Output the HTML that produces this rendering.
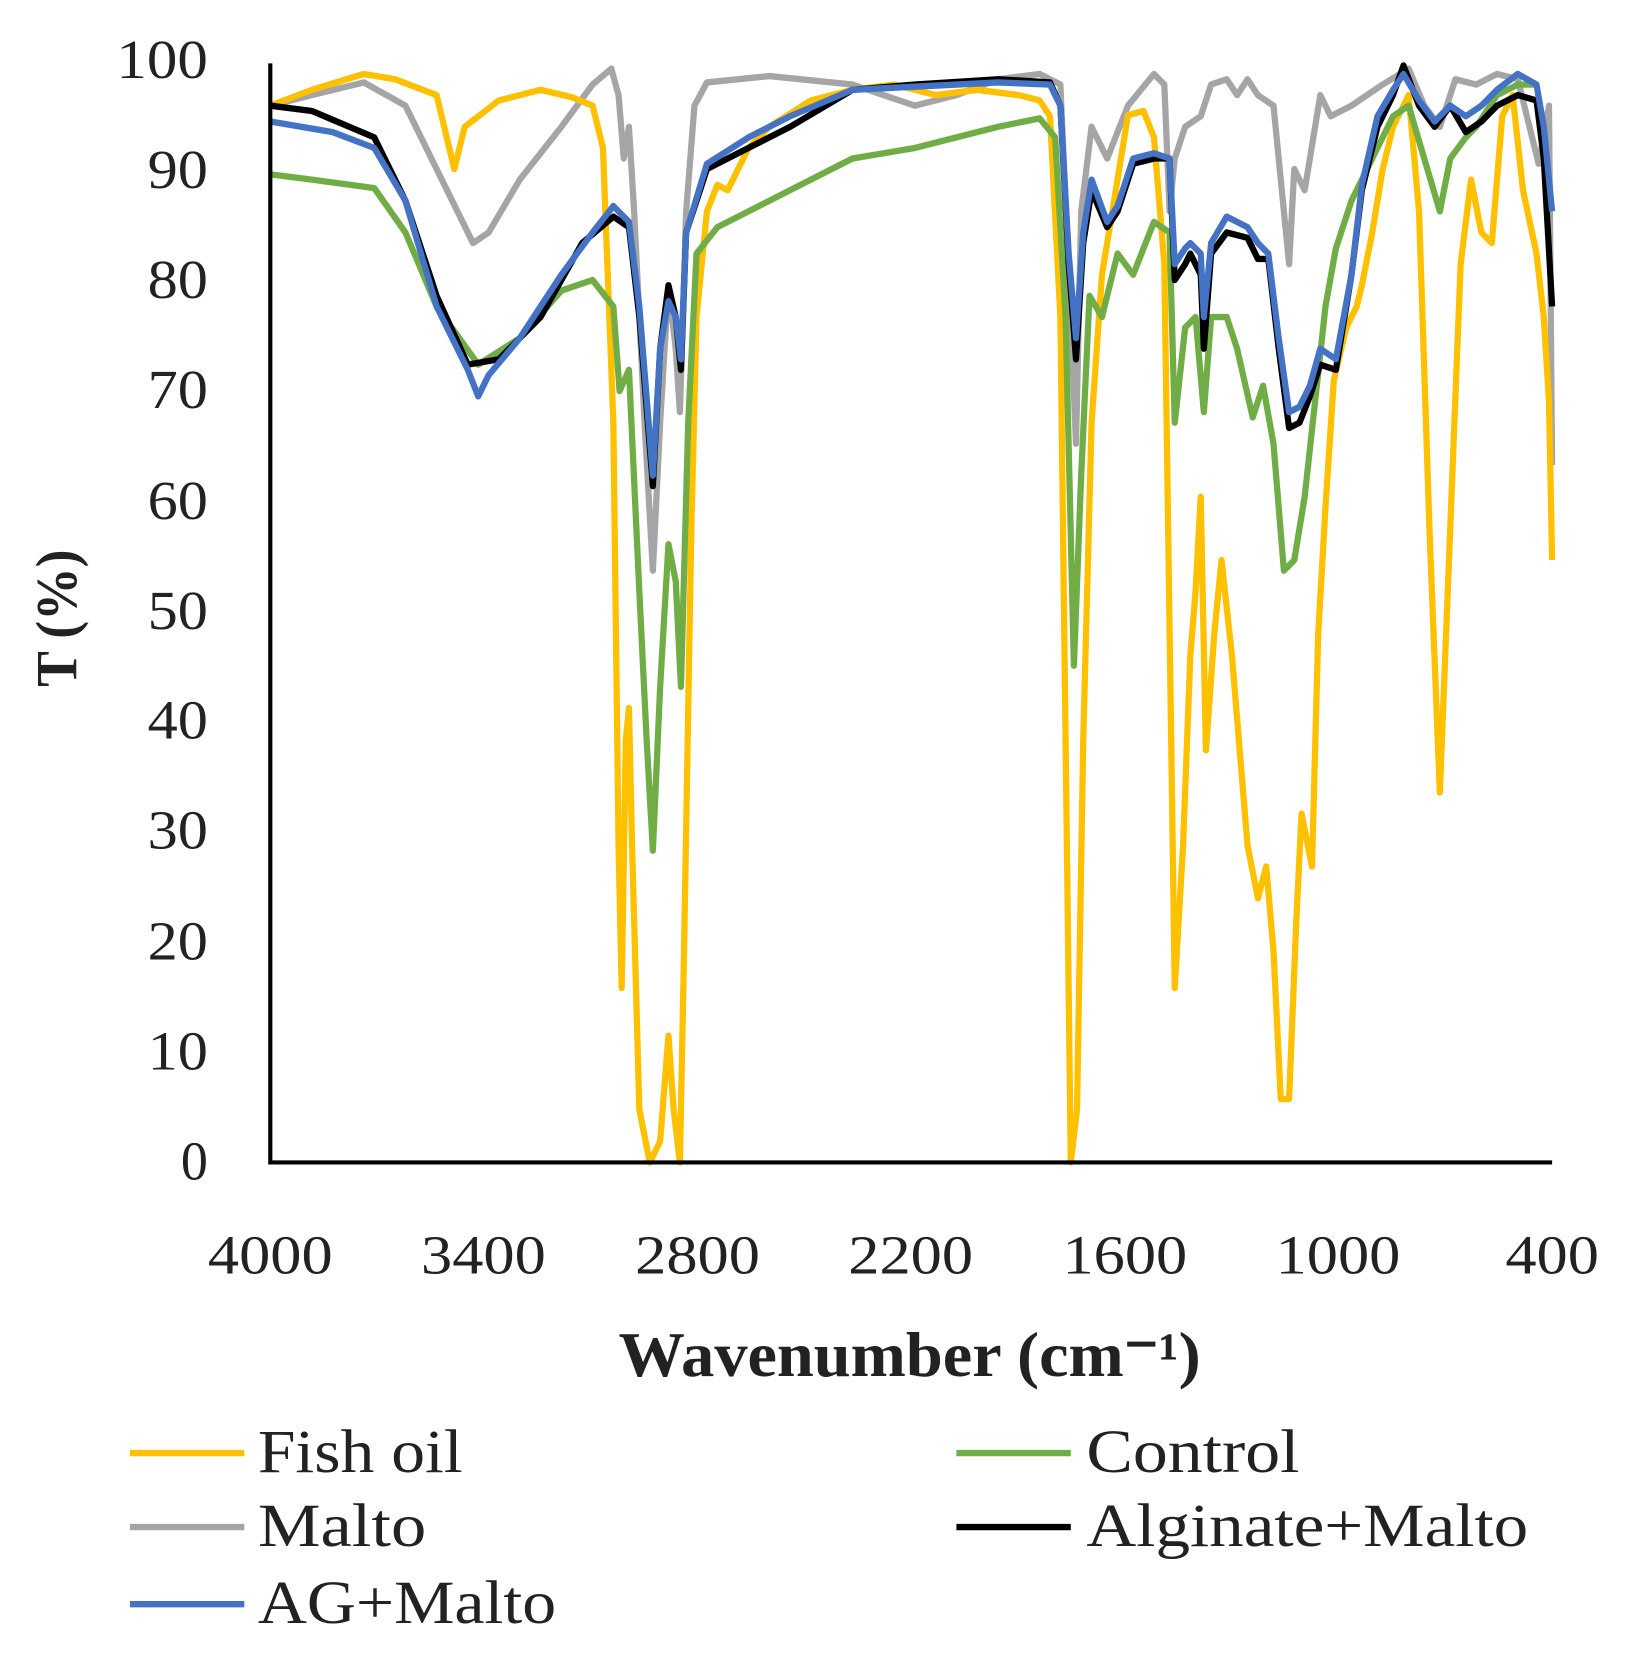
<!DOCTYPE html>
<html><head><style>html,body{margin:0;padding:0;background:#fff}svg{display:block}</style></head><body>
<svg width="1628" height="1657" viewBox="0 0 1566 1568" preserveAspectRatio="none" xmlns="http://www.w3.org/2000/svg" font-family="Liberation Serif, serif">
<g font-size="52" fill="#222" text-anchor="end">
<text x="200" y="1116">0</text><text x="200" y="1012" textLength="58" lengthAdjust="spacingAndGlyphs">10</text><text x="200" y="908" textLength="58" lengthAdjust="spacingAndGlyphs">20</text><text x="200" y="803" textLength="58" lengthAdjust="spacingAndGlyphs">30</text><text x="200" y="699" textLength="58" lengthAdjust="spacingAndGlyphs">40</text><text x="200" y="595" textLength="58" lengthAdjust="spacingAndGlyphs">50</text><text x="200" y="491" textLength="58" lengthAdjust="spacingAndGlyphs">60</text><text x="200" y="386" textLength="58" lengthAdjust="spacingAndGlyphs">70</text><text x="200" y="282" textLength="58" lengthAdjust="spacingAndGlyphs">80</text><text x="200" y="178" textLength="58" lengthAdjust="spacingAndGlyphs">90</text><text x="200" y="74" textLength="88" lengthAdjust="spacingAndGlyphs">100</text>
</g>
<g font-size="52" fill="#222" text-anchor="middle">
<text x="260" y="1205" textLength="120" lengthAdjust="spacingAndGlyphs">4000</text><text x="465" y="1205" textLength="120" lengthAdjust="spacingAndGlyphs">3400</text><text x="671" y="1205" textLength="120" lengthAdjust="spacingAndGlyphs">2800</text><text x="876" y="1205" textLength="120" lengthAdjust="spacingAndGlyphs">2200</text><text x="1082" y="1205" textLength="120" lengthAdjust="spacingAndGlyphs">1600</text><text x="1287" y="1205" textLength="120" lengthAdjust="spacingAndGlyphs">1000</text><text x="1493" y="1205" textLength="90" lengthAdjust="spacingAndGlyphs">400</text>
</g>
<text x="875" y="1302" font-size="60" font-weight="bold" text-anchor="middle" fill="#222" textLength="560" lengthAdjust="spacingAndGlyphs">Wavenumber (cm⁻¹)</text>
<text transform="translate(73,585) rotate(-90)" font-size="56" font-weight="bold" text-anchor="middle" fill="#222" textLength="130" lengthAdjust="spacingAndGlyphs">T (%)</text>
<g fill="none" stroke-width="6" stroke-linejoin="round">
<polyline stroke="#A5A5A5" points="260,100 300,90 350,78 390,100 430,180 455,230 470,220 500,170 540,120 570,80 588,65 595,90 600,150 605,120 610,200 620,400 628,540 635,400 643,270 650,330 654,390 660,200 668,100 680,78 740,72 820,80 880,100 920,90 960,75 1000,70 1020,80 1030,300 1035,420 1040,200 1050,120 1065,150 1085,100 1110,70 1120,80 1125,200 1130,150 1140,120 1155,110 1165,80 1180,75 1190,90 1200,75 1210,90 1225,100 1240,250 1245,160 1255,180 1270,90 1280,110 1300,100 1330,80 1355,65 1370,100 1385,120 1400,75 1420,80 1440,70 1460,75 1480,155 1490,100 1493,440"/>
<polyline stroke="#FFC000" points="260,100 300,85 350,70 380,75 420,90 437,160 447,120 480,95 520,85 550,92 570,100 580,140 590,400 595,800 598,935 602,700 605,670 608,800 615,1050 625,1100 635,1080 643,980 648,1050 654,1100 658,900 665,500 670,300 680,200 690,175 700,180 710,160 720,140 740,120 780,95 820,85 860,80 900,90 940,85 980,90 1000,95 1010,110 1020,300 1030,1100 1036,1050 1042,700 1050,400 1060,260 1070,200 1085,109 1100,105 1110,130 1120,250 1130,935 1138,800 1145,620 1150,560 1155,470 1160,710 1168,600 1175,530 1185,620 1200,800 1210,850 1218,820 1225,900 1232,1040 1240,1040 1247,870 1252,770 1258,800 1262,820 1268,600 1275,480 1283,360 1295,310 1305,290 1310,270 1320,220 1330,160 1340,120 1355,90 1365,200 1375,500 1385,750 1395,500 1405,250 1415,170 1425,220 1435,230 1445,110 1455,90 1465,180 1478,240 1485,300 1490,380 1493,530"/>
<polyline stroke="#70AD47" points="260,165 300,170 360,178 390,220 420,290 460,345 500,320 540,275 570,265 590,290 596,370 605,350 615,560 622,700 628,805 635,650 643,515 650,550 655,650 662,400 670,240 690,215 760,180 820,150 880,140 960,120 1000,112 1015,130 1025,300 1033,630 1040,450 1048,280 1060,300 1075,240 1090,260 1110,210 1125,220 1130,400 1140,310 1150,300 1158,390 1165,300 1180,300 1190,330 1205,395 1215,365 1225,420 1235,540 1245,530 1255,470 1265,380 1275,290 1285,235 1300,190 1320,150 1340,110 1355,100 1370,150 1385,200 1395,150 1410,130 1420,120 1440,90 1460,80 1478,80"/>
<polyline stroke="#000" points="260,100 300,105 360,130 390,190 420,280 450,345 480,340 520,300 560,230 590,205 605,215 615,300 628,460 635,330 643,270 650,300 655,350 660,220 680,160 720,140 760,120 820,85 880,80 960,75 1010,78 1020,100 1028,250 1035,340 1042,230 1050,180 1065,215 1075,200 1090,155 1110,150 1125,150 1130,265 1140,250 1145,240 1155,260 1158,330 1165,240 1180,220 1200,225 1210,245 1220,245 1230,330 1240,405 1250,400 1260,375 1270,345 1285,350 1300,260 1310,180 1325,120 1340,90 1350,62 1365,100 1380,120 1395,100 1410,125 1425,115 1440,100 1460,90 1478,95 1485,150 1493,290"/>
<polyline stroke="#4472C4" points="260,115 320,125 360,140 390,190 420,290 450,350 460,375 470,355 500,320 540,260 570,220 590,195 605,210 615,290 628,450 635,330 643,285 650,300 655,340 660,220 680,155 720,130 760,110 820,85 880,82 960,78 1010,80 1020,100 1028,240 1035,320 1042,220 1050,170 1065,210 1075,195 1090,150 1110,145 1125,150 1130,250 1140,235 1145,230 1155,240 1158,300 1165,230 1180,205 1200,215 1210,230 1220,240 1230,320 1240,390 1250,385 1260,365 1270,330 1285,340 1300,260 1310,175 1325,110 1340,85 1350,70 1365,95 1380,115 1395,100 1410,110 1425,100 1440,85 1460,70 1478,80 1485,120 1493,200"/>
</g>
<polyline points="260,60 260,1100 1493,1100" fill="none" stroke="#000" stroke-width="4"/>
<g stroke-width="6">
<line x1="125" y1="1375" x2="235" y2="1375" stroke="#FFC000"/>
<line x1="125" y1="1445" x2="235" y2="1445" stroke="#A5A5A5"/>
<line x1="125" y1="1518" x2="235" y2="1518" stroke="#4472C4"/>
<line x1="920" y1="1375" x2="1030" y2="1375" stroke="#70AD47"/>
<line x1="920" y1="1445" x2="1030" y2="1445" stroke="#000"/>
</g>
<g font-size="58" fill="#222">
<text x="248" y="1393" textLength="197" lengthAdjust="spacingAndGlyphs">Fish oil</text>
<text x="248" y="1463" textLength="162" lengthAdjust="spacingAndGlyphs">Malto</text>
<text x="248" y="1536" textLength="287" lengthAdjust="spacingAndGlyphs">AG+Malto</text>
<text x="1045" y="1393" textLength="205" lengthAdjust="spacingAndGlyphs">Control</text>
<text x="1045" y="1463" textLength="425" lengthAdjust="spacingAndGlyphs">Alginate+Malto</text>
</g>
</svg>
</body></html>
